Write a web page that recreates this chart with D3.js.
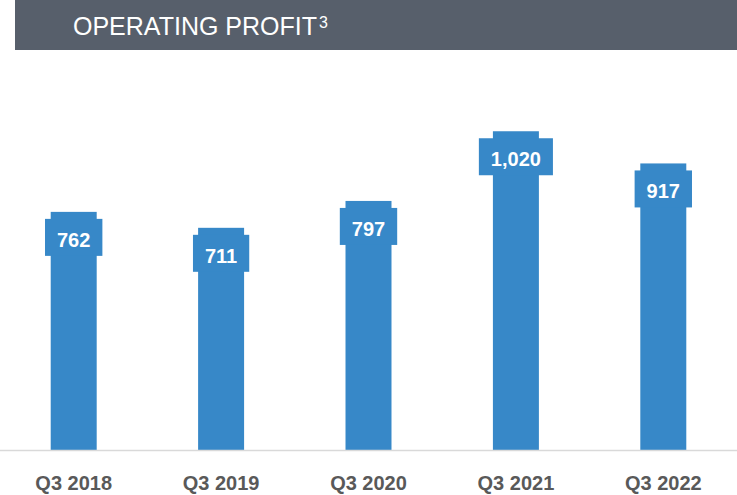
<!DOCTYPE html>
<html>
<head>
<meta charset="utf-8">
<script src="https://cdn.jsdelivr.net/npm/d3@7"></script>
<style>
  body { margin: 0; background: #fff; }
  svg { display: block; }
</style>
</head>
<body>
<svg width="737" height="495"></svg>
<script>
const categories = ["Q3 2018", "Q3 2019", "Q3 2020", "Q3 2021", "Q3 2022"];
const values = [762, 711, 797, 1020, 917];
const valueLabels = ["762", "711", "797", "1,020", "917"];

const svg = d3.select("svg");
const width = 737;
const baseY = 450; // 축 기준선
const barColor = "#3788c8";
const font = "'Liberation Sans', Arial, sans-serif";

// 헤더 바
svg.append("rect")
  .attr("x", 15).attr("y", 0)
  .attr("width", width - 15).attr("height", 50)
  .attr("fill", "#575f6b");

const title = svg.append("text")
  .attr("x", 73).attr("y", 35)
  .attr("fill", "#fff")
  .style("font-family", font)
  .style("font-size", "25px")
  .text("OPERATING PROFIT");

// 각주 위첨자: 제목 끝 바로 뒤에 배치
const titleEnd = 73 + title.node().getComputedTextLength();
svg.append("text")
  .attr("x", titleEnd + 2).attr("y", 28)
  .attr("fill", "#fff")
  .style("font-family", font)
  .style("font-size", "16px")
  .text("3");

const x = d3.scaleBand()
  .domain(categories)
  .range([0, width])
  .paddingInner(0.688)
  .paddingOuter(0.344);

const y = d3.scaleLinear()
  .domain([0, 1440])
  .range([baseY, 0]);

// 막대
svg.selectAll("rect.bar")
  .data(values)
  .enter()
  .append("rect")
  .attr("class", "bar")
  .attr("x", (d, i) => x(categories[i]))
  .attr("y", (d) => y(d))
  .attr("width", x.bandwidth())
  .attr("height", (d) => baseY - y(d))
  .attr("fill", barColor);

// 축 선
svg.append("line")
  .attr("x1", 0).attr("x2", width)
  .attr("y1", baseY + 0.5).attr("y2", baseY + 0.5)
  .attr("stroke", "#d9d9d9")
  .attr("stroke-width", 1.5);

// 카테고리 라벨
svg.selectAll("text.cat")
  .data(categories)
  .enter()
  .append("text")
  .attr("class", "cat")
  .attr("x", (d) => x(d) + x.bandwidth() / 2)
  .attr("y", 490)
  .attr("text-anchor", "middle")
  .attr("fill", "#595959")
  .style("font-family", font)
  .style("font-weight", "bold")
  .style("font-size", "20px")
  .text((d) => d);

// 값 라벨 (박스 + 텍스트)
const labels = svg.selectAll("g.val")
  .data(values)
  .enter()
  .append("g")
  .attr("class", "val");

labels.each(function (d, i) {
  const g = d3.select(this);
  const cx = x(categories[i]) + x.bandwidth() / 2;
  const top = y(d) + 7;
  const box = g.append("rect").attr("fill", barColor);
  const t = g.append("text")
    .attr("x", cx)
    .attr("y", top + 28)
    .attr("text-anchor", "middle")
    .attr("fill", "#fff")
    .style("font-family", font)
    .style("font-weight", "bold")
    .style("font-size", "20px")
    .text(valueLabels[i]);
  const w = t.node().getComputedTextLength() + 24;
  box.attr("x", cx - w / 2).attr("y", top)
    .attr("width", w).attr("height", 37);
});
</script>
</body>
</html>
